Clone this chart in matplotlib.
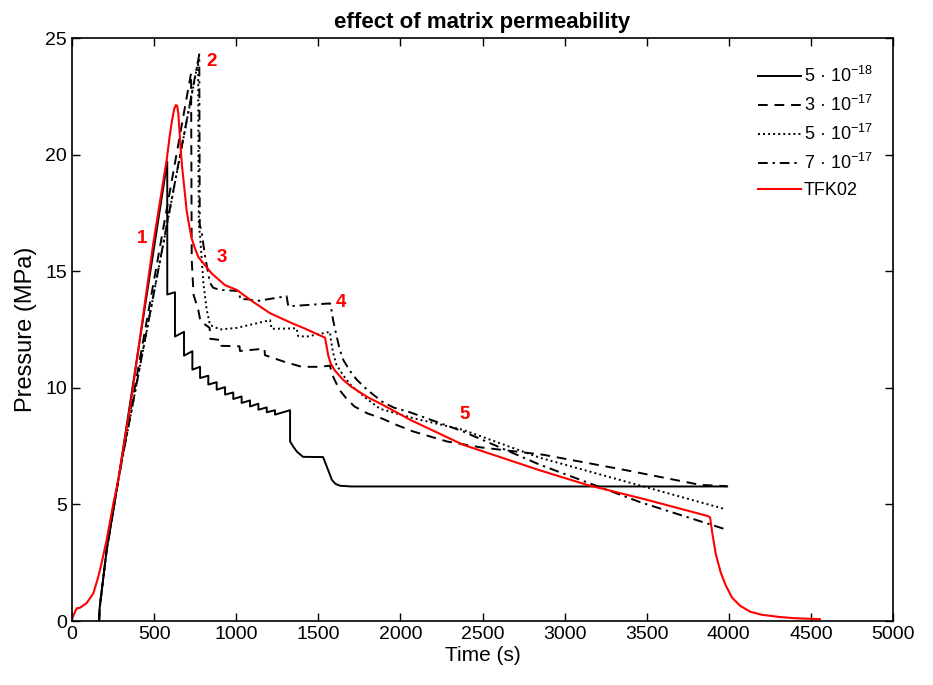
import matplotlib
matplotlib.use("Agg")
import matplotlib.pyplot as plt

# --- data (time in s, pressure in MPa) ---
# k = 5e-18 (solid, sawtooth after breakdown)
t_k1 = [165, 168, 211, 282, 580, 580, 627, 627, 682, 682, 733, 733, 780, 780,
        830, 830, 881, 881, 932, 932, 982, 982, 1033, 1033, 1084, 1084, 1135,
        1135, 1186, 1186, 1236, 1236, 1328, 1328, 1350, 1370, 1407, 1529, 1583,
        1605, 1632, 1700, 3990]
p_k1 = [0, 0.55, 3.05, 6.06, 19.7, 14.0, 14.1, 12.2, 12.4, 11.38, 11.57, 10.78,
        10.9, 10.42, 10.52, 10.14, 10.24, 9.92, 10.03, 9.71, 9.8, 9.52, 9.63,
        9.35, 9.46, 9.2, 9.32, 9.06, 9.16, 8.95, 9.04, 8.85, 9.04, 7.7, 7.45,
        7.26, 7.04, 7.03, 6.05, 5.88, 5.8, 5.77, 5.77]

# k = 3e-17 (dashed)
t_k2 = [165, 168, 211, 282, 725, 729, 740, 770, 782, 838, 842, 905, 910, 1020,
        1023, 1172, 1175, 1300, 1400, 1500, 1571, 1583, 1602, 1630, 1670, 1720,
        1800, 1876, 1980, 2077, 2283, 2485, 2870, 3350, 3825, 3990]
p_k2 = [0, 0.55, 3.05, 6.06, 23.5, 15.5, 14.0, 13.3, 12.86, 12.57, 12.1, 12.05,
        11.8, 11.78, 11.58, 11.68, 11.4, 11.1, 10.9, 10.9, 10.95, 10.6, 10.3,
        9.9, 9.55, 9.2, 8.9, 8.72, 8.4, 8.13, 7.7, 7.45, 7.13, 6.5, 5.84, 5.78]

# k = 5e-17 (dotted)
t_k3 = [165, 168, 211, 282, 768, 772, 780, 800, 820, 840, 901, 1003, 1206, 1216,
        1368, 1378, 1431, 1571, 1576, 1590, 1610, 1650, 1700, 1800, 1876, 2077,
        2381, 2850, 3977]
p_k3 = [0, 0.55, 3.05, 6.06, 24.0, 17.0, 16.5, 14.5, 13.36, 12.7, 12.5, 12.57,
        12.9, 12.53, 12.55, 12.21, 12.2, 12.4, 12.1, 11.5, 11.0, 10.55, 10.1,
        9.5, 9.1, 8.7, 8.2, 7.0, 4.8]

# k = 7e-17 (dash-dot)
t_k4 = [165, 168, 211, 282, 775, 778, 790, 810, 840, 860, 901, 1020, 1023, 1072,
        1125, 1307, 1317, 1328, 1571, 1581, 1590, 1612, 1630, 1652, 1690, 1734,
        1800, 1890, 1960, 2059, 2381, 2850, 3459, 3977]
p_k4 = [0, 0.55, 3.05, 6.06, 24.3, 17.0, 16.65, 15.65, 14.5, 14.29, 14.2, 14.15,
        13.8, 13.8, 13.72, 13.93, 13.5, 13.5, 13.62, 13.3, 12.9, 12.2, 11.65,
        11.2, 10.75, 10.35, 9.9, 9.4, 9.15, 8.95, 8.13, 6.7, 5.1, 3.94]

# TFK02 field data (red)
t_fld = [0, 28, 49, 89, 130, 160, 180, 211, 252, 282, 363, 495, 577, 595, 610,
         622, 632, 640, 647, 653, 660, 670, 685, 698, 715, 729, 750, 770, 851,
         932, 1003, 1100, 1206, 1346, 1409, 1541, 1550, 1560, 1575, 1600, 1650,
         1700, 1800, 1890, 2059, 2381, 2850, 3136, 3500, 3873, 3886, 3893, 3900,
         3920, 3950, 3980, 4020, 4070, 4130, 4200, 4300, 4400, 4555]
p_fld = [0.11, 0.54, 0.57, 0.77, 1.19, 1.9, 2.48, 3.48, 5.05, 6.06, 9.6, 16.2,
         19.8, 20.8, 21.5, 21.95, 22.12, 22.1, 21.8, 21.2, 20.4, 19.5, 18.5,
         17.6, 16.9, 16.4, 15.95, 15.6, 14.9, 14.4, 14.2, 13.7, 13.2, 12.75,
         12.57, 12.15, 11.8, 11.4, 11.05, 10.75, 10.35, 10.05, 9.6, 9.28, 8.63,
         7.56, 6.46, 5.84, 5.2, 4.5, 4.45, 4.1, 3.75, 2.9, 2.1, 1.55, 1.0, 0.65,
         0.4, 0.27, 0.18, 0.12, 0.08]

series_labels = ["5 · 10$^{-18}$", "3 · 10$^{-17}$", "5 · 10$^{-17}$",
                 "7 · 10$^{-17}$", "TFK02"]

stage_labels = ["1", "2", "3", "4", "5"]
stage_t = [427, 847, 914, 1638, 2393]
stage_p = [16.4, 24.0, 15.6, 13.66, 8.85]

plt.rcParams["font.family"] = ["Liberation Sans", "DejaVu Sans"]
plt.rcParams["mathtext.fontset"] = "custom"
plt.rcParams["mathtext.rm"] = "Liberation Sans"
plt.rcParams["mathtext.default"] = "regular"

fig = plt.figure(figsize=(9.33, 6.85), dpi=100)
ax = fig.add_axes([0.0772, 0.0934, 0.8799, 0.8511])

lw = 1.4
ax.plot(t_k1, p_k1, color="black", lw=lw, ls="-", label=series_labels[0])
ax.plot(t_k2, p_k2, color="black", lw=lw, ls=(0, (5, 3.5)), label=series_labels[1])
ax.plot(t_k3, p_k3, color="black", lw=lw, ls=(0, (1, 1.6)), label=series_labels[2])
ax.plot(t_k4, p_k4, color="black", lw=lw, ls=(0, (5, 2.5, 1.2, 2.5)), label=series_labels[3])
ax.plot(t_fld, p_fld, color="red", lw=1.5, label=series_labels[4])

for s, x, y in zip(stage_labels, stage_t, stage_p):
    ax.text(x, y, s, color="red", fontsize=13.5, fontweight="bold",
            ha="center", va="center")

ax.set_xlim(0, 5000)
ax.set_ylim(0, 25)
ax.set_xticks(range(0, 5001, 500))
ax.set_yticks(range(0, 26, 5))
ax.tick_params(direction="in", top=True, right=True, labelsize=14, length=6, width=1)
for sp in ax.spines.values():
    sp.set_linewidth(1.2)

ax.set_xlabel("Time (s)", fontsize=15, labelpad=2)
ax.set_ylabel("Pressure (MPa)", fontsize=17, labelpad=6)
ax.set_title("effect of matrix permeability", fontsize=16, fontweight="bold", pad=7)

ax.legend(loc="upper right", frameon=False, fontsize=13, handlelength=2.4,
          handletextpad=0.15, labelspacing=0.5, bbox_to_anchor=(0.995, 0.98))

fig.savefig("out.png", dpi=100)
